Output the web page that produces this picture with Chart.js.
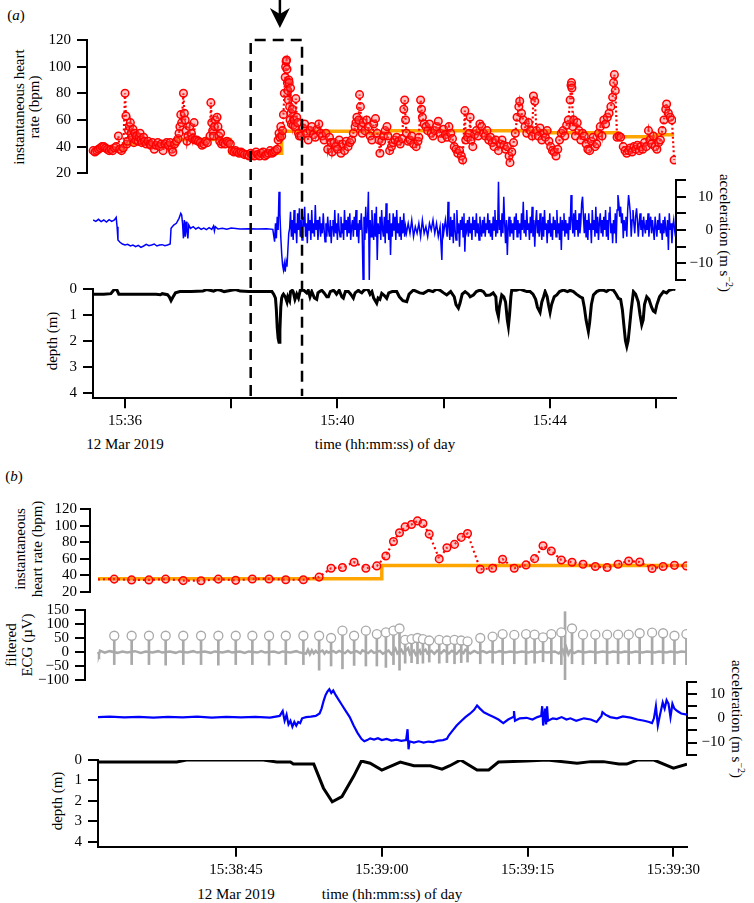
<!DOCTYPE html>
<html><head><meta charset="utf-8">
<script src="https://cdn.jsdelivr.net/npm/chart.js@4.4.1/dist/chart.umd.min.js"></script>
<style>
html,body{margin:0;padding:0;background:#fff;}
#wrap{position:relative;width:754px;height:903px;overflow:hidden;background:#fff;font-family:"Liberation Serif","Tinos","Times New Roman","DejaVu Serif",serif;color:#000;}
#wrap canvas{position:absolute;left:0;}
.t{position:absolute;font-size:15px;white-space:nowrap;transform:translate(-50%,-50%);text-align:center;line-height:16px;}
.r{transform:translate(-50%,-50%) rotate(-90deg);}
.rr{transform:translate(-50%,-50%) rotate(90deg);}
sup{font-size:10px;line-height:0;}
</style></head>
<body><div id="wrap">
<div class="t" style="left:16px;top:15px;">(<i>a</i>)</div>
<div class="t" style="left:14px;top:476px;">(<i>b</i>)</div>
<div class="t r" style="left:27px;top:107px;line-height:15px;">instantaneous heart<br>rate (bpm)</div>
<div class="t rr" style="left:725px;top:233px;">acceleration (m s<sup>−2</sup>)</div>
<div class="t r" style="left:52px;top:341px;">depth (m)</div>
<div class="t" style="left:125px;top:444px;">12 Mar 2019</div>
<div class="t" style="left:385px;top:444px;">time (hh:mm:ss) of day</div>
<div class="t r" style="left:29px;top:549px;line-height:17px;">instantaneous<br>heart rate (bpm)</div>
<div class="t r" style="left:19px;top:645px;line-height:16px;">filtered<br>ECG (µV)</div>
<div class="t rr" style="left:737px;top:719px;">acceleration (m s<sup>−2</sup>)</div>
<div class="t r" style="left:57px;top:801px;">depth (m)</div>
<div class="t" style="left:236px;top:894px;">12 Mar 2019</div>
<div class="t" style="left:392px;top:894px;">time (hh:mm:ss) of day</div>
</div>
<script>
// ---------- Panel (a): time in seconds after 15:35:00 ----------
const aTickValues = [60, 180, 300, 420, 540, 660];
const aTickLabels = ['15:36', '', '15:40', '', '15:44', ''];
const aBox = [202, 260];       // dashed window (s after 15:35:00)
const aArrow = 235;            // arrow time

const hrA = [[24,37],[26,36],[28,37],[30,38],[32,39],[34,40],[36,40],[38,39],[40,38],[42,37],[44,38],[46,37],[48,39],[50,40],[52.5,48],[54,38],[56,37],[58,39],
[60,80],[61,63],[62,42],[63,44],[64,52],[65,55],[66,58],[67,50],[68,47],[69,53],[70,43],[71,50],[72,45],[73,48],[75,44],[76,47],[77,50],[78,45],[79,43],[81,47],[82,44],[84,42],
[86,44],[88,42],[89,41],[91,43],[93,38],[95,41],[97,43],[99,40],[101,42],[103,37],[105,42],[107,43],[109,41],[111,43],[113,38],[114,36],[116,42],[118,44],
[120,46],[121,50],[122,55],[123,64],[124,58],[126,80],[127,65],[128,60],[129,52],[130,44],[131,48],[133,55],[135,50],[136,46],[138,58],[139,45],
[141,45],[143,44],[145,43],[147,41],[149,42],[151,44],[153,43],[156,48],[157,73],[158,58],[159,52],[160,48],[161,55],[162,60],[164,62],[165,55],[166,48],[167,44],[168,50],[169,42],
[171,43],[173,42],[175,44],[177,43],[179,42],[181,37],[183,36],[185,37],[187,36],[189,35],[191,36],[193,35],[195,34],[198,34],[200,33],[202,35],[204,34],[206,33],[208,36],[210,34],
[212,33],[214,35],[216,36],[218,33],[220,34],[222,35],[224,37],[226,35],[228,36],[230,37],[232,38],[233,45],[234,50],[235,47],[236,55],[237,48],[238,52],
[239,64],[240,80],[241,92],[241.5,100],[242,104],[242.5,105],[243,98],[243.5,88],[244,82],[244.5,75],[245,90],[245.5,88],[246,70],[246.5,60],
[247,84],[247.5,65],[248,57],[249,68],[250,56],[251,60],[252,55],[253,76],[254,62],[255,58],[256,50],[257,48],
[259,48],[261,54],[263,57],[265,50],[267,45],[269,52],[271,55],[273,49],[275,47],[277,53],[279,57],[281,50],[283,48],[285,45],[287,50],[289,38],[291,47],[293,43],[294,36],
[296,43],[298,40],[300,38],[302,45],[304,35],[306,42],[308,37],[310,44],[312,40],[314,43],[316,45],[318,50],[320,55],[321,58],[322,62],[324,60],[325,79],[326,70],[327,55],[328,50],
[329,58],[331,52],[333,60],[335,55],[337,48],[339,45],[341,57],[343,61],[345,50],[347,45],[348,35],[350,44],[352,48],[354,52],[356,55],[357,48],[359,37],
[361,40],[363,43],[365,45],[367,47],[369,44],[371,42],[373,46],[375,68],[376,75],[377,60],[378,50],[380,44],[382,45],[384,48],[386,42],[389,40],[391,44],[392,47],
[394,75],[395,68],[396,62],[398,57],[400,55],[402,52],[404,57],[406,50],[408,48],[410,52],[412,55],[414,59],[416,50],[418,46],[420,53],[422,49],[424,47],[426,55],[428,50],[430,46],
[432,40],[434,38],[436,35],[438,37],[440,33],[441.5,30],[444,67],[445,45],[447,47],[449,50],[450,62],[451,45],[453,40],[455,49],[457,52],[459,48],[461,57],[463,55],[465,50],
[467,48],[469,52],[471,45],[473,47],[475,43],[477,40],[479,45],[482,37],[484,42],[486,45],[488,41],[490,38],[492,40],[494,33],[495,28],[497,36],[499,43],
[501,50],[503,62],[505,70],[506,74],[508,65],[510,60],[512,55],[514,50],[516,58],[518,52],[520,48],[521.5,78],[523,74],[525,52],[527,48],[529,54],[531,45],[533,50],[535,47],[537,52],[539,44],
[541,40],[543,37],[545,36],[547,33],[549,38],[551,45],[553,50],[555,52],[557,48],[559,56],[561,60],[563,75],[564,86],[564.5,88],[565,84],[566,55],[567,60],[569,48],[571,58],[573,52],
[575,45],[577,50],[579,48],[581,42],[583,38],[585,37],[587,44],[589,47],[591,40],[593,42],[595,50],[597,55],[599,48],[601,60],[603,57],[605,62],[607,65],[609,70],[611,77],[612,88],[613,94],[614,82],
[616,47],[618,48],[620,47],[623,40],[625,37],[627,35],[629,37],[631,39],[633,36],[635,40],[637,38],[639,41],[641,37],[643,40],[645,38],[647,43],[649,40],[651.5,52],[653,45],[655,42],
[657,48],[659,40],[661,38],[663,43],[665,45],[667,52],[669,60],[671,68],[672,72],[674,65],[676,62],[678,60],[680.5,30]];

const hrMeanA = [[24,38],[58,42],[118,45.3],[179,35],[237,51.5],[337,50],[359,52],[540,50.5],[616,47.5],[659,49],[680.5,49]];

const accelA = [[24,3],[27,2.6],[30,3.2],[33,2.5],[36,3],[39,2.4],[42,3.1],[45,2.6],[48,3],[50,3.8],[51,1],[52,-3],[54,-3.6],[57,-4.2],[60,-4.5],[63,-4.3],[66,-4.8],[69,-4.5],[72,-5],[75,-4.6],
[78,-5.2],[81,-4.8],[84,-4.3],[87,-4.7],[90,-4.5],[93,-4.2],[96,-4.8],[99,-4.5],[102,-4.4],[105,-4.7],[108,-4.5],[111,-4.2],[112,0.5],[115,1.5],[118,2],[121,3.5],[123,5],[124,4.5],[125,2],
[126,-2.5],[127,3],[128,-2],[129,2.5],[130,-0.5],[131,-2.5],[132,1.5],[134,0.5],[137,1],[140,0.3],[143,0.8],[146,0.2],[149,0.6],[152,0.1],[155,0.7],[158,0.2],[160,1.2],[161,-0.3],[162,1],
[165,0.3],[170,0.5],[175,0.2],[180,0.6],[190,0.3],[200,0.4],[210,0.3],[220,0.4],[227,0.2],[229,-3.5],[230,2],[231,-2.5],[232,4],[233,0],[234,11.5],[235,5],[236,-2],[237,-7],[238,-10.5],
[239,-12],[240,-10],[241,-12.5],[242,-9.5],[243,-11],[244,-6],[245,-1],[246,0.5],[247,5.5],[248,-2],[249,3],[250,-3],[251,6],[252,-1],[253,2],[254,-4],[255,5],[256,0],[257,6.5],[258,-2],
[259,3],[260,-3],[261,4],[262,1],[263,7],[264,-2],[265,2],[266,-4],[267,5],[268,0],[269,3],[270,-3],[271,6],[272,-1],[273,2],[274,-2],[275,7.5],[276,0],[277,3],[278,-3],[279,1],[280,4],
[281,-2],[282,2],[283,-1],[284,5],[285,0],[286,-3.5],[287,2],[288,-2],[289,4],[290,0],[291,-2],[292,3],[293,-4],[294,1],[295,3],[296,-2],[297,6],[298,-1],[299,2],[300,-3],[301,5],[302,0],
[303,-2],[304,4],[305,-1],[306,2],[307,-3],[308,6],[309,0],[310,3],[311,-2],[312,4],[313,-1],[314,5],[315,-3],[316,1],[317,3],[318,-2],[319,4],[320,0],[321,6],[322,-2],[323,2],[324,-4],
[325,3],[326,0],[327,5],[328,-1],[329,-15],[330,4],[331,-3],[332,7],[333,-1],[334,2],[335,11.5],[336,-15],[337,3],[338,-2],[339,6],[340,0],[341,-3],[342,5],[343,-2],[344,7],[345,-9],
[346,2],[347,-1],[348,4],[349,-3],[350,6],[351,0],[352,-2],[353,4],[354,-4],[355,8],[356,-1],[357,3],[358,-3],[359,5],[360,-7.5],[361,2],[362,-2],[363,5],[364,0],[365,4],[366,-3],[367,6],
[368,-1],[369,2],[370,-2],[371,4],[372,-3],[373,3],[374,-1],[375,5],[376,-2],[377,1],[378,-1],[380,2],[382,-1],[384,3],[386,-2],[388,1],[390,-1],[392,2],[394,-2],[396,3],[398,-1],[400,1],
[402,-2],[404,2],[406,0],[408,3],[410,-1],[412,2],[414,-2],[416,1],[418,-9],[419,2],[420,-1],[422,3],[424,-2],[425,8.5],[426,1],[427,-3],[428,4],[429,-2],[430,3],[431,-4],[432,5],[433,0],
[434,-3],[435,6],[436,-1],[437,2],[438,-5],[439,3],[440,0],[441,4],[442,-2],[443,5],[444,-6.5],[445,2],[446,0],[447,3],[448,-2],[449,4],[450,-1],[451,2],[452,-3],[453,4],[454,0],[455,3],
[456,-2],[457,5],[458,-1],[459,2],[460,-3],[461,4],[462,1],[463,-2],[464,3],[465,-1],[466,4],[467,-2],[468,2],[469,0],[470,5],[471,-1],[472,3],[473,-2],[474,2],[475,-3],[476,4],[477,0],
[478,6],[479,-2],[480,3],[481,-1],[482,14.5],[483,0],[484,3],[485,-2],[486,5],[487,-1],[488,10],[489,2],[490,-4],[491,3],[492,-7.5],[493,1],[494,4],[495,-2],[496,3],[497,-1],[498,2],
[499,-3],[500,4],[501,0],[502,5],[503,-2],[504,3],[505,-1],[506,2],[507,-3],[508,5],[509,0],[510,8.5],[511,-1],[512,3],[513,-2],[514,6],[515,0],[516,2],[517,-3],[518,4],[519,-1],[520,7],
[521,-2],[522,3],[523,-5],[524,2],[525,6],[526,-1],[527,3],[528,-2],[529,5],[530,0],[531,-3],[532,4],[533,-2],[534,6],[535,0],[536,2],[537,-4],[538,3],[539,-1],[540,5],[541,-2],[542,2],
[543,-3],[544,4],[545,0],[546,3],[547,-2],[548,6],[549,-1],[550,2],[551,-3],[552,4],[553,-6],[554,3],[555,0],[556,5],[557,-2],[558,3],[559,-1],[560,2],[561,-3],[562,4],[563,0],[564,10.5],
[565,3],[566,-1],[567,5],[568,-2],[569,6],[570,0],[571,3],[572,-2],[573,5],[574,-1],[575,2],[576,8],[577,10],[578,4],[579,-1],[580,5],[581,-2],[582,3],[583,-3],[584,5],[585,0],[586,2],
[587,-4],[588,6],[589,0],[590,3],[591,-2],[592,7],[593,-1],[594,4],[595,-3],[596,2],[597,5],[598,-1],[599,3],[600,-2],[601,4],[602,0],[603,6],[604,-2],[605,3],[606,-3],[607,5],[608,7],
[609,-1],[610,2],[611,-4],[612,3],[613,-1],[614,5],[615,-4],[616,6],[617,10.5],[618,8],[619,4],[620,7],[621,2],[622,5],[623,-2.5],[624,3],[625,0],[626,4],[627,-2],[628,6],[629,10.5],[630,8],
[631,5],[632,-2],[633,3],[634,6],[635,2],[636,-1],[637,4],[638,6.5],[639,3],[640,-2],[641,2],[642,5],[643,0],[644,3],[645,-2],[646,4],[647,1],[648,-1],[649,3],[650,0],[651,5],[652,-2],
[653,2],[654,4],[655,-1],[656,3],[657,0],[658,-3],[659,4],[660,1],[661,-2],[662,3],[663,0],[664,5],[665,-1],[666,2],[667,-3],[668,3],[669,-1],[670,4],[671,0],[672,-2],[673,3],[674,-6],
[675,5],[676,0],[677,2],[678,-4],[679,1],[680,3],[681,0],[682,-2]];

const depthA = [[24,0.2],[36,0.2],[44,0.18],[47,0.05],[49,0],[51,0.05],[53,0.2],[70,0.2],[85,0.2],[95,0.2],[100,0.22],[102,0.18],[108,0.22],[110,0.3],[112,0.45],[114,0.32],[117,0.15],
[122,0.1],[135,0.1],[148,0.08],[152,0.02],[156,0.05],[160,0.08],[164,0.02],[168,0.05],[172,0.1],[180,0.05],[185,0.02],[190,0.08],[200,0.1],[215,0.1],[226,0.1],[228,0.2],[230,0.35],
[231,0.8],[232,1.5],[233,1.9],[234,2.06],[235,1.6],[236,0.7],[237,0.35],[238,0.25],[239,0.2],[241,0.3],[243,0.5],[244,0.3],[246,0.45],[247,0.1],[249,0.05],[250,0.1],[252,0.4],[254,0.2],
[256,0.35],[258,0.05],[259.7,0],[262,0.05],[265.3,0.15],[267,0.05],[269,0.3],[271,0.1],[274,0.35],[276.6,0.4],[278,0.15],[280,0.1],[282.3,0.05],[285,0.15],[288,0.3],[289.8,0.3],[292,0.1],
[295.5,0.05],[297,0.1],[299,0.2],[302,0.05],[305,0.3],[306.7,0.35],[309,0.1],[312.4,0.1],[315,0.2],[318,0.35],[320,0.15],[323.7,0.05],[325,0.1],[327.5,0.15],[330,0.05],[333,0],[335,0.05],
[336.9,0.2],[339,0.1],[341,0.35],[344.4,0.55],[346,0.35],[348,0.4],[350.1,0.17],[353,0.25],[355.7,0.36],[358,0.15],[362,0.1],[367,0.1],[370,0.3],[374,0.45],[378.3,0.49],[381,0.2],
[385.9,0.04],[390,0.1],[393,0.15],[397.2,0.17],[403,0.05],[408,0.1],[412.2,0],[416,0.05],[420,0.15],[423.5,0.23],[428,0.1],[432,0.3],[434,0.6],[436.7,0.74],[438.5,0.55],[441,0.2],
[444.3,0.1],[448,0.2],[450,0.3],[453.7,0.23],[457,0.1],[461.2,0.04],[465,0.1],[468,0.25],[472.5,0.23],[476,0.15],[479,0.3],[480,0.8],[481.9,1.06],[483,0.7],[485.7,0.23],[488,0.3],
[490,0.5],[492,1.2],[493.2,1.45],[494.5,1.0],[496,0.3],[497,0.04],[502,0.05],[506.4,0],[510,0.05],[514,0.1],[517.7,0.1],[521,0.2],[524,0.4],[526,0.7],[529,0.9],[531,0.5],[533,0.3],
[534.7,0.1],[537,0.3],[538.5,0.6],[540.3,0.9],[542,0.6],[545,0.3],[547.9,0.23],[551,0.1],[555.4,0.04],[560,0.1],[563,0.05],[566.7,0.1],[570,0.2],[574.2,0.3],[577,0.35],[579,0.7],
[581,1.2],[583.6,1.64],[585,1.3],[587,0.6],[589.3,0.23],[593,0.1],[596.8,0.04],[601,0.05],[604,0.1],[608.1,0],[612,0.05],[615,0.2],[617.5,0.36],[620,0.4],[622,0.8],[624,1.5],
[625.5,2.0],[627,2.22],[628.5,2.0],[630,1.5],[632,0.8],[634.5,0.1],[637,0.2],[640,0.5],[642,1.0],[643.9,1.38],[645.5,1.2],[647,0.6],[649.5,0.3],[652,0.4],[655,0.7],[657,0.85],
[659,0.9],[661,0.6],[664,0.3],[668.4,0.1],[672,0.15],[675,0.05],[679.7,0],[682,0.02]];

// ---------- Panel (b): time in seconds after 15:38:00 ----------
const bTickValues = [45, 60, 75, 90];
const bTickLabels = ['15:38:45', '15:39:00', '15:39:15', '15:39:30'];

const beatTimes = [32.47,34.26,36.04,37.76,39.57,41.40,43.18,44.97,46.68,48.40,50.12,51.93,53.55,54.78,55.95,57.15,58.36,59.49,60.42,61.20,61.82,62.40,63.06,63.67,64.23,64.88,
65.91,66.70,67.48,68.17,68.82,70.13,71.40,72.43,73.63,74.84,75.72,76.59,77.44,78.47,79.57,80.70,81.97,83.18,84.31,85.40,86.53,87.81,88.94,90.11,91.34];
const hrB = [35.3,34.3,34.3,35.3,33.5,33.3,35.3,33.8,35.5,35.5,34.5,34.5,37.7,48.5,49.3,55.8,48.5,51.3,63.4,81,91.5,98.7,101.5,105.9,102.7,89.9,
59.8,73.4,77.4,85.9,90.7,47.3,48.5,59.4,48.5,52.5,60.1,75.8,69.4,58.5,55.8,53.4,50.5,49.3,53.4,57.3,56.1,48.1,50.5,52,51.3];
const hrBStart = [30.8, 35];
const hrMeanB = [[30.8,35.6],[60,51.7],[91.4,51.7]];
const ecgPeak = [58,58,58,58,58,58,58,58,58,58,58,58,58,50,76,58,76,64,70,76,84,43,46,50,46,41,
43,41,43,41,38,50,55,64,61,64,62,52,64,70,84,62,62,62,62,62,67,69,67,58,64];
const ecgTrough = [-45,-45,-45,-47,-45,-45,-47,-45,-45,-47,-45,-45,-65,-50,-60,-48,-50,-50,-55,-45,-65,-40,-38,-42,-40,-36,
-40,-38,-42,-38,-36,-42,-40,-45,-42,-45,-40,-35,-42,-45,-42,-45,-42,-45,-42,-45,-42,-45,-42,-45,-45];
const ecgArtifact = [[78.85,-100,144]];
const ecgBase = [[30.8,0],[30.9,-8],[31.0,5],[31.5,-2],[32.0,3],[32.8,-3],[33.3,2],[33.8,-2],[34.6,3],[35.2,-3],[35.7,2],[36.4,-2],[37.0,3],[37.4,-2],[38.2,2],[38.8,-3],[39.2,2],
[40.0,-2],[40.6,3],[41.0,-2],[41.8,2],[42.4,-3],[42.8,2],[43.6,-2],[44.2,3],[44.6,-2],[45.4,2],[45.9,-3],[46.3,2],[47.2,-2],[47.6,3],[48.0,-2],[48.9,2],[49.4,-3],[49.8,2],[50.6,-2],
[51.2,3],[51.6,-2],[52.2,-6],[52.4,8],[52.6,-8],[52.8,6],[53.0,-5],[53.2,4],[53.4,-3],[53.9,5],[54.1,-6],[54.3,3],[54.5,-2],[55.0,3],[55.3,-3],[55.6,4],[56.2,-4],[56.5,5],
[56.8,-3],[57.4,3],[57.8,-5],[58.0,6],[58.6,-4],[58.9,5],[59.2,-3],[59.8,4],[60.1,-6],[60.7,5],[61.0,-8],[61.4,12],[61.6,-5],[62.0,8],[62.2,-4],[62.7,14],[62.9,-8],[63.3,5],
[63.5,-10],[63.9,6],[64.0,-6],[64.5,8],[64.7,-5],[65.1,4],[65.4,-6],[65.7,5],[66.1,-4],[66.4,6],[66.9,-5],[67.2,4],[67.7,-6],[68.0,5],[68.4,-4],[68.6,8],[69.1,-5],[69.5,4],
[69.9,-3],[70.4,3],[70.8,-3],[71.1,2],[71.7,-2],[72.1,3],[72.7,-2],[73.2,2],[73.9,-2],[74.4,2],[75.1,-2],[75.4,2],[76.0,-2],[76.3,2],[77.0,-2],[77.8,2],[78.2,-5],[78.6,8],[78.8,-12],
[79.0,14],[79.2,-8],[79.4,5],[79.8,-4],[80.2,3],[80.9,-2],[81.4,2],[82.2,-2],[82.7,2],[83.4,-2],[83.8,2],[84.6,-2],[85.0,2],[85.7,-2],[86.1,2],[86.8,-2],[87.3,2],[88.1,-2],[88.5,2],
[89.3,-2],[89.7,2],[90.4,-2],[90.8,2],[91.4,0]];

const accelB = [[30.8,0.5],[32,0.7],[33.5,0.4],[35,0.6],[36.5,0.3],[38,0.6],[39.5,0.4],[41,0.7],[42.5,0.3],[44,0.6],[45.5,0.4],[47,0.6],[48.5,0.3],[49.5,1],[49.8,3],[50.0,-1],[50.2,1.5],
[50.4,-2.5],[50.6,-1],[50.8,-3.5],[51.0,-1.5],[51.2,-3],[51.4,-1.5],[51.6,-2],[51.8,0],[52.2,0.5],[52.7,0.7],[53.2,1],[53.6,2],[53.8,4],[54.0,7],[54.2,9.5],[54.4,11],[54.6,12],
[54.8,10.5],[55.0,11.5],[55.2,10],[55.5,8],[55.9,5.5],[56.3,3],[56.7,0.5],[57.1,-3],[57.5,-6],[57.9,-8.5],[58.2,-9.5],[58.5,-9],[58.8,-8.3],[59.2,-8.8],[59.6,-8.2],[60.0,-9],[60.5,-8.5],
[61.0,-9.2],[61.5,-8.8],[62.0,-9.3],[62.5,-9],[62.65,-4.5],[62.75,-12.8],[62.85,-9.5],[63.3,-10],[63.8,-9.5],[64.3,-10],[64.8,-9.6],[65.3,-9.8],[65.8,-9.2],[66.3,-9],[66.7,-8.5],
[66.9,-7],[67.3,-5],[67.7,-3],[68.2,-1],[68.6,0.5],[69.1,2],[69.5,3.5],[69.8,5.3],[70.1,4],[70.5,2.5],[71.0,1.5],[71.5,0.5],[72.0,-0.5],[72.5,-2],[73.0,-0.5],[73.5,0.5],[73.6,3],
[73.7,-1],[74.2,0],[74.9,0.2],[75.5,-0.5],[76.0,0.5],[76.4,1],[76.5,5],[76.6,-3],[76.8,4],[76.9,-2.5],[77.0,5],[77.1,-1],[77.6,0],[78.0,-0.3],[78.5,0.5],[79.0,-0.5],[79.4,0],[80.0,-1],
[80.8,0],[81.5,-0.5],[82.1,-1.5],[82.6,1],[82.7,2.5],[83.0,1.5],[83.5,0.5],[84.2,0],[84.8,0.8],[85.6,0.3],[86.3,-0.5],[87.0,-1],[87.5,-1.5],[87.8,-2],[88.0,0],[88.2,5],[88.4,-3],
[88.6,1],[88.9,6.5],[89.1,4],[89.3,7.5],[89.5,6],[89.7,0.5],[89.9,6],[90.1,4],[90.4,3],[90.8,2],[91.4,1.5]];

const depthB = [[30.8,0.1],[38.9,0.1],[39.9,0],[47.8,0],[49.2,0.1],[50.6,0.1],[50.9,0.2],[53.0,0.2],[54.0,1.38],[54.9,2.05],[55.9,1.79],[57.1,0.8],[57.9,0.05],[58.8,0.16],
[60.0,0.49],[61.9,0.1],[63.3,0.28],[65.0,0.28],[66.2,0.45],[67.0,0.28],[68.1,0],[69.8,0.49],[71.0,0.49],[72.0,0.1],[74.9,0.05],[77.0,0],[80.1,0.16],[81.5,0.08],[82.8,0.08],
[84.4,0.2],[85.2,0.2],[86.3,0],[88.0,0],[90.0,0.4],[91.4,0.2]];

const hrTicks = [20, 40, 60, 80, 100, 120];
const accelTicks = [-15, -10, -5, 0, 5, 10, 15];
const accelTickLabels = ['', '−10', '', '0', '', '10', ''];
const depthTicks = [0, 1, 2, 3, 4];
const ecgTicks = [-100, -50, 0, 50, 100, 150];

// ---------- helpers ----------
const FONT = {family: "'Liberation Serif', 'Tinos', 'Times New Roman', 'DejaVu Serif', serif", size: 15};
const minus = v => String(v).replace('-', '\u2212');
const pts = arr => arr.map(p => ({x: p[0], y: p[1]}));

function yAx(pos, min, max, ticks, width, labelFn, reverse, pad) {
  return {
    type: 'linear', position: pos, min: min, max: max, reverse: !!reverse,
    afterBuildTicks: s => { s.ticks = ticks.map(v => ({value: v})); },
    afterFit: s => { s.width = width; },
    grid: {drawOnChartArea: false, drawTicks: true, tickLength: 10, color: '#000', lineWidth: 2},
    border: {display: true, color: '#000', width: 2},
    ticks: {font: FONT, color: '#000', padding: pad, autoSkip: false,
      crossAlign: pos === 'right' ? 'far' : 'near', callback: (v, i) => labelFn(v, i)}
  };
}
function xHidden(min, max) { return {type: 'linear', min: min, max: max, display: false, offset: false}; }
function xAx(min, max, tv, tl) {
  return {
    type: 'linear', position: 'bottom', min: min, max: max, offset: false,
    afterBuildTicks: s => { s.ticks = tv.map(v => ({value: v})); },
    afterFit: s => { s.height = 40; },
    grid: {drawOnChartArea: false, drawTicks: true, tickLength: 10, color: '#000', lineWidth: 2, offset: false},
    border: {display: true, color: '#000', width: 2},
    ticks: {font: FONT, color: '#000', padding: 4, autoSkip: false, maxRotation: 0, minRotation: 0,
      callback: (v, i) => tl[i]}
  };
}
function mk(top, height, pad, scales, datasets, plugins) {
  const c = document.createElement('canvas');
  c.width = 754; c.height = height;
  c.style.top = top + 'px'; c.style.width = '754px'; c.style.height = height + 'px';
  document.getElementById('wrap').appendChild(c);
  return new Chart(c.getContext('2d'), {
    type: 'line',
    data: {datasets: datasets},
    options: {
      responsive: false, animation: false, devicePixelRatio: 1,
      layout: {padding: pad},
      plugins: {legend: {display: false}, tooltip: {enabled: false}},
      elements: {line: {tension: 0}},
      scales: scales
    },
    plugins: plugins || []
  });
}
const trace = (data, color, w) => ({data: pts(data), borderColor: color, borderWidth: w, pointRadius: 0, fill: false});

// ---------- Panel (a) ----------
const A_MIN = 23.8, A_MAX = 682.6, A_HR_MIN = 17.0;
mk(0, 190, {left: 0, right: 78, top: 40, bottom: 16.7},
  {x: xHidden(A_HR_MIN, A_MAX), y: yAx('left', 20, 120, hrTicks, 87, v => v, false, 6)},
  [
    {data: pts(hrA), borderColor: '#ff0000', borderWidth: 2.2, borderDash: [2, 2.5], pointRadius: 3.8,
     pointBorderWidth: 1.5, pointBorderColor: '#ff0000', pointBackgroundColor: 'rgba(255,90,90,0.35)', fill: false},
    Object.assign(trace(hrMeanA, '#ffa500', 3.5), {stepped: true})
  ]);
mk(165, 130, {left: 93, right: 41, top: 15, bottom: 15},
  {x: xHidden(A_MIN, A_MAX), y: yAx('right', -15, 15, accelTicks, 37, (v, i) => accelTickLabels[i], false, 4)},
  [trace(accelA, '#0000ff', 1.5)]);

const boxPlugin = {
  id: 'boxArrow',
  afterDraw(chart) {
    const ctx = chart.ctx, xs = chart.scales.x;
    const x1 = xs.getPixelForValue(aBox[0]), x2 = xs.getPixelForValue(aBox[1]);
    ctx.save();
    ctx.strokeStyle = '#000'; ctx.lineWidth = 2.5; ctx.setLineDash([11, 7]);
    ctx.beginPath();
    ctx.moveTo(x1, 396); ctx.lineTo(x1, 40); ctx.lineTo(x2, 40); ctx.lineTo(x2, 396);
    ctx.stroke();
    ctx.setLineDash([]);
    const xa = xs.getPixelForValue(aArrow);
    ctx.lineWidth = 2.5;
    ctx.beginPath(); ctx.moveTo(xa, 0); ctx.lineTo(xa, 16); ctx.stroke();
    ctx.fillStyle = '#000';
    ctx.beginPath();
    ctx.moveTo(xa, 28); ctx.lineTo(xa - 10, 8); ctx.lineTo(xa, 14); ctx.lineTo(xa + 10, 8); ctx.closePath();
    ctx.fill();
    ctx.restore();
  }
};
mk(0, 441, {left: 0, right: 78, top: 289, bottom: 2.7},
  {x: xAx(A_MIN, A_MAX, aTickValues, aTickLabels), y: yAx('left', 0, 4.22, depthTicks, 93, v => v, true, 6)},
  [trace(depthA, '#000000', 3)], [boxPlugin]);

// ---------- Panel (b) ----------
const B_MIN = 30.8, B_MAX = 91.4, B_HR_MIN = 29.98, B_ECG_MIN = 29.46;
const hrBpts = [{x: hrBStart[0], y: hrBStart[1]}].concat(beatTimes.map((t, i) => ({x: t, y: hrB[i]})));
mk(495, 110, {left: 0, right: 67, top: 14.3, bottom: 13.3},
  {x: xHidden(B_HR_MIN, B_MAX), y: yAx('left', 20, 120, hrTicks, 90, v => v, false, 3)},
  [
    {data: hrBpts, borderColor: '#ff0000', borderWidth: 2.2, borderDash: [2, 3],
     pointRadius: c => c.dataIndex === 0 ? 0 : 3.8, pointBorderWidth: 1.5, pointBorderColor: '#ff0000',
     pointBackgroundColor: 'rgba(255,90,90,0.35)', fill: false},
    Object.assign(trace(hrMeanB, '#ffa500', 3.5), {stepped: true})
  ]);

const ecgBars = beatTimes.map((t, i) => ({x: t, y: [ecgTrough[i], ecgPeak[i]]}))
  .concat(ecgArtifact.map(a => ({x: a[0], y: [a[1], a[2]]})));
mk(595, 100, {left: 0, right: 67, top: 14.3, bottom: 15},
  {x: xHidden(B_ECG_MIN, B_MAX), y: yAx('left', -100, 150, ecgTicks, 85, v => minus(v), false, 6)},
  [
    {data: beatTimes.map((t, i) => ({x: t, y: ecgPeak[i]})), showLine: false, pointRadius: 4.5,
     pointBorderWidth: 1.3, pointBorderColor: '#a9a9a9', pointBackgroundColor: '#ffffff'},
    {type: 'bar', data: ecgBars, backgroundColor: '#a9a9a9', borderWidth: 0, barThickness: 2},
    trace(ecgBase, '#a9a9a9', 2.5)
  ]);

mk(668, 100, {left: 98, right: 29, top: 14, bottom: 13.4},
  {x: xHidden(B_MIN, B_MAX), y: yAx('right', -15, 15, accelTicks, 38, (v, i) => accelTickLabels[i], false, 4)},
  [trace(accelB, '#0000ff', 2.2)]);

mk(745, 158, {left: 0, right: 67, top: 15, bottom: 16.3},
  {x: xAx(B_MIN, B_MAX, bTickValues, bTickLabels), y: yAx('left', 0, 4.245, depthTicks, 98, v => v, true, 6)},
  [trace(depthB, '#000000', 3)]);
</script>
</body></html>
